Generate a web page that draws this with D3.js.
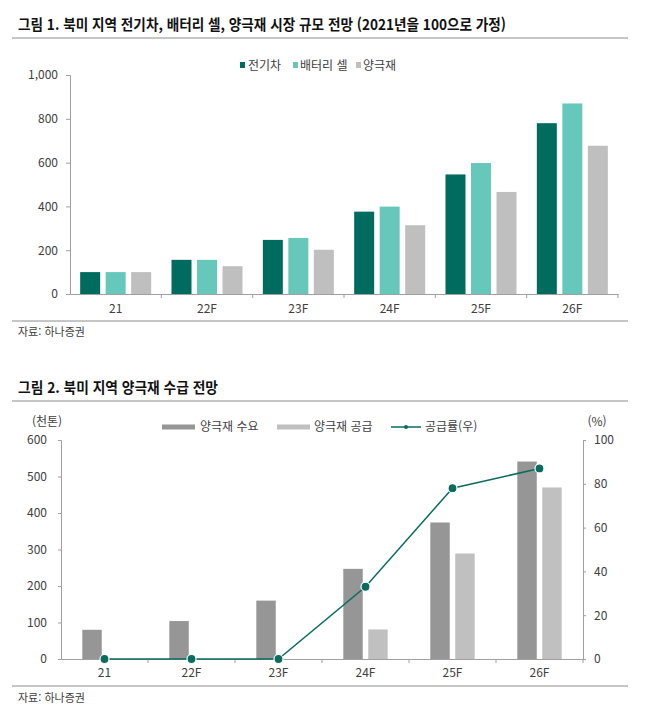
<!DOCTYPE html>
<html lang="ko">
<head>
<meta charset="UTF-8">
<title>북미 지역 양극재 전망</title>
<script src="https://d3js.org/d3.v7.min.js"></script>
<style>
  body { margin: 0; background: #fff; }
  text { font-family: "Noto Sans CJK KR", "Noto Sans", sans-serif; }
</style>
</head>
<body>
<div id="chart"></div>
<script>
// ---- data ----
var years = ["21", "22F", "23F", "24F", "25F", "26F"];

// 그림 1 (2021년 = 100)
var series1 = ["전기차", "배터리 셀", "양극재"];
var evValues      = [100, 156, 247, 376, 546, 780];
var cellValues    = [100, 156, 256, 399, 598, 870];
var cathodeValues = [100, 127, 202, 314, 466, 677];
var ticks1 = [0, 200, 400, 600, 800, 1000];

// 그림 2 (천톤, %)
var series2 = ["양극재 수요", "양극재 공급"];
var demandValues = [80, 104, 160, 247, 374, 541];
var supplyValues = [0, 0, 0, 81, 289, 470];
var ratioValues  = [0, 0, 0, 33, 78, 87];
var ticks2Left  = [0, 100, 200, 300, 400, 500, 600];
var ticks2Right = [0, 20, 40, 60, 80, 100];

var colors1 = ["#006b5f", "#66c8bb", "#bfbfbf"];
var colors2 = ["#969696", "#c0c0c0"];
var lineColor = "#0b6b5f";
var axisColor = "#a0a0a0";
var labelColor = "#404040";

var W = 650, H = 716;
var svg = d3.select("#chart").append("svg")
    .attr("width", W).attr("height", H);
svg.append("rect").attr("width", W).attr("height", H).attr("fill", "#fff");

function rule(y) {
    svg.append("line").attr("x1", 12).attr("x2", 628)
        .attr("y1", y).attr("y2", y)
        .attr("stroke", "#8c8c8c").attr("stroke-width", 1);
}
function title(txt, y, len) {
    svg.append("text").attr("x", 18).attr("y", y)
        .attr("font-size", 15).attr("font-weight", "bold").attr("fill", "#111")
        .attr("textLength", len).attr("lengthAdjust", "spacingAndGlyphs")
        .text(txt);
}
function source(y) {
    svg.append("text").attr("x", 18).attr("y", y)
        .attr("font-size", 11).attr("fill", "#404040").text("자료: 하나증권");
}
function styleAxis(g) {
    g.select(".domain").attr("stroke", axisColor);
    g.selectAll(".tick line").attr("stroke", axisColor);
    g.selectAll(".tick text").attr("fill", labelColor).attr("font-size", 12)
        .style("font-family", "'Noto Sans CJK KR', sans-serif");
}
function boundaryTicks(x, y0) {
    var edges = years.map(function (d) { return x(d); }).slice(1);
    edges.push(x.range()[1]);
    svg.append("g").selectAll("line").data(edges).enter().append("line")
        .attr("x1", function (d) { return d; }).attr("x2", function (d) { return d; })
        .attr("y1", y0).attr("y2", y0 + 4)
        .attr("stroke", axisColor);
}

// =================== 그림 1 ===================
title("그림 1. 북미 지역 전기차, 배터리 셀, 양극재 시장 규모 전망 (2021년을 100으로 가정)", 30, 488);
rule(38);

var x1 = d3.scaleBand().domain(years).range([70, 618]);
var y1 = d3.scaleLinear().domain([0, 1000]).range([294, 75]);
var sub1 = d3.scaleBand().domain(series1)
    .range([x1.bandwidth() / 2 - 35.5, x1.bandwidth() / 2 + 35.5])
    .paddingInner(0.216);

var rows1 = years.map(function (y, i) {
    return { year: y, vals: [evValues[i], cellValues[i], cathodeValues[i]] };
});

var g1 = svg.append("g");
g1.selectAll("g.grp").data(rows1).enter().append("g")
    .attr("transform", function (d) { return "translate(" + x1(d.year) + ",0)"; })
    .selectAll("rect").data(function (d) {
        return d.vals.map(function (v, k) { return { s: series1[k], v: v, k: k }; });
    }).enter().append("rect")
    .attr("x", function (d) { return sub1(d.s); })
    .attr("width", sub1.bandwidth())
    .attr("y", function (d) { return y1(d.v); })
    .attr("height", function (d) { return y1(0) - y1(d.v); })
    .attr("fill", function (d) { return colors1[d.k]; });

svg.append("g").attr("transform", "translate(70,0)")
    .call(d3.axisLeft(y1).tickValues(ticks1).tickFormat(d3.format(",")).tickSize(4).tickPadding(8))
    .call(styleAxis);
svg.append("g").attr("transform", "translate(0,294)")
    .call(d3.axisBottom(x1).tickSize(0).tickPadding(10).tickSizeOuter(0))
    .call(styleAxis);
boundaryTicks(x1, 294);

// legend 1
var leg1 = [{ x: 240, tx: 248 }, { x: 293, tx: 300 }, { x: 356, tx: 363 }];
leg1.forEach(function (p, k) {
    svg.append("rect").attr("x", p.x).attr("y", 62).attr("width", 5).attr("height", 6)
        .attr("fill", colors1[k]);
    svg.append("text").attr("x", p.tx).attr("y", 69.5).attr("font-size", 12)
        .attr("fill", labelColor).text(series1[k]);
});

rule(321);
source(336);

// =================== 그림 2 ===================
title("그림 2. 북미 지역 양극재 수급 전망", 393, 200);
rule(401);

var x2 = d3.scaleBand().domain(years).range([61, 583]);
var y2 = d3.scaleLinear().domain([0, 600]).range([659, 440]);
var y2r = d3.scaleLinear().domain([0, 100]).range([659, 440]);
var sub2 = d3.scaleBand().domain(series2)
    .range([x2.bandwidth() / 2 - 22.2, x2.bandwidth() / 2 + 22.2])
    .paddingInner(0.22);

var rows2 = years.map(function (y, i) {
    return { year: y, vals: [demandValues[i], supplyValues[i]] };
});

svg.append("g").selectAll("g.grp").data(rows2).enter().append("g")
    .attr("transform", function (d) { return "translate(" + x2(d.year) + ",0)"; })
    .selectAll("rect").data(function (d) {
        return d.vals.map(function (v, k) { return { s: series2[k], v: v, k: k }; });
    }).enter().append("rect")
    .attr("x", function (d) { return sub2(d.s); })
    .attr("width", sub2.bandwidth())
    .attr("y", function (d) { return y2(d.v); })
    .attr("height", function (d) { return y2(0) - y2(d.v); })
    .attr("fill", function (d) { return colors2[d.k]; });

svg.append("g").attr("transform", "translate(61,0)")
    .call(d3.axisLeft(y2).tickValues(ticks2Left).tickSize(3).tickPadding(11))
    .call(styleAxis);
svg.append("g").attr("transform", "translate(583,0)")
    .call(d3.axisRight(y2r).tickValues(ticks2Right).tickSize(3).tickPadding(8))
    .call(styleAxis);
svg.append("g").attr("transform", "translate(0,659)")
    .call(d3.axisBottom(x2).tickSize(0).tickPadding(9).tickSizeOuter(0))
    .call(styleAxis);
boundaryTicks(x2, 659);

// supply ratio line
var cx = function (d, i) { return x2(years[i]) + x2.bandwidth() / 2; };
var line = d3.line().x(cx).y(function (d) { return y2r(d); });
svg.append("path").datum(ratioValues).attr("d", line)
    .attr("fill", "none").attr("stroke", lineColor).attr("stroke-width", 1.5);
svg.append("g").selectAll("circle").data(ratioValues).enter().append("circle")
    .attr("cx", cx).attr("cy", function (d) { return y2r(d); })
    .attr("r", 4.5).attr("fill", lineColor)
    .attr("stroke", "#fff").attr("stroke-width", 1.2);

// units
svg.append("text").attr("x", 47).attr("y", 426).attr("text-anchor", "middle")
    .attr("font-size", 12).attr("fill", labelColor).text("(천톤)");
svg.append("text").attr("x", 597).attr("y", 426).attr("text-anchor", "middle")
    .attr("font-size", 12).attr("fill", labelColor).text("(%)");

// legend 2
[{ x: 162, tx: 200 }, { x: 277, tx: 314 }].forEach(function (p, k) {
    svg.append("line").attr("x1", p.x).attr("x2", p.x + 33)
        .attr("y1", 427).attr("y2", 427)
        .attr("stroke", colors2[k]).attr("stroke-width", 5);
    svg.append("text").attr("x", p.tx).attr("y", 431).attr("font-size", 12)
        .attr("fill", labelColor).text(series2[k]);
});
svg.append("line").attr("x1", 391).attr("x2", 421).attr("y1", 427).attr("y2", 427)
    .attr("stroke", lineColor).attr("stroke-width", 1.5);
svg.append("circle").attr("cx", 406).attr("cy", 427).attr("r", 2).attr("fill", lineColor);
svg.append("text").attr("x", 425).attr("y", 431).attr("font-size", 12)
    .attr("fill", labelColor).text("공급률(우)");

rule(686);
source(702);
</script>
</body>
</html>
